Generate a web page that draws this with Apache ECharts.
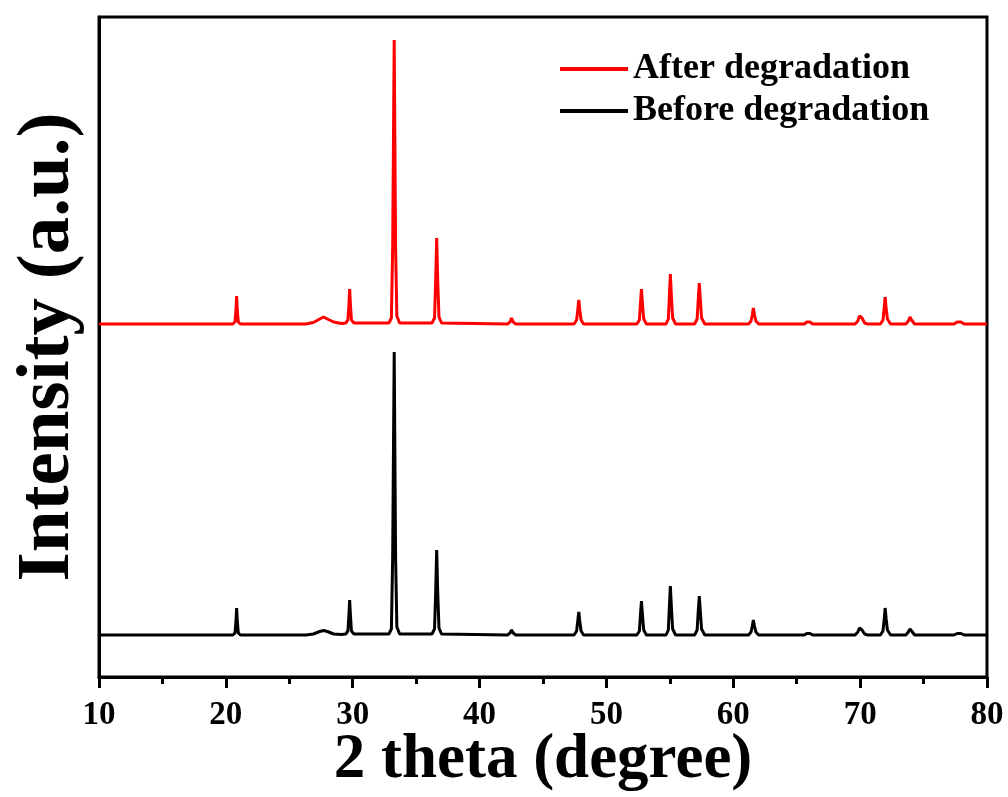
<!DOCTYPE html>
<html>
<head>
<meta charset="utf-8">
<script src="https://cdn.jsdelivr.net/npm/echarts@6/dist/echarts.min.js"></script>
<style>
html,body{margin:0;padding:0;background:#fff;}
#chart{width:1008px;height:797px;}
</style>
</head>
<body>
<div id="chart"></div>
<script>
// 2 theta positions (degree), shared by both patterns
const theta = [
  10,
  20.55, 20.72, 20.8, 20.85, 20.9, 20.98, 21.15,
  26.3, 26.9, 27.4, 27.7, 28.0, 28.5, 29.1,
  29.45, 29.62, 29.7, 29.76, 29.82, 29.9, 30.1,
  32.85, 33.05, 33.15, 33.27, 33.38, 33.48, 33.7,
  36.25, 36.45, 36.54, 36.62, 36.7, 36.8, 37.0,
  42.2, 42.4, 42.52, 42.65, 42.85,
  47.45, 47.65, 47.74, 47.82, 47.9, 48.0, 48.2,
  52.4, 52.6, 52.68, 52.76, 52.84, 52.94, 53.15,
  54.7, 54.88, 54.96, 55.04, 55.12, 55.22, 55.45,
  56.95, 57.15, 57.24, 57.32, 57.4, 57.5, 57.75,
  61.2, 61.4, 61.5, 61.58, 61.67, 61.78, 62.0,
  65.6, 65.8, 65.92, 66.05, 66.25,
  69.6, 69.82, 69.95, 70.05, 70.15, 70.35, 70.6,
  71.6, 71.8, 71.9, 71.97, 72.05, 72.15, 72.4,
  73.6, 73.8, 73.93, 74.05, 74.3,
  77.4, 77.65, 77.8, 77.95, 78.2,
  80
];
// Intensity (a.u., offset for stacking display)
const beforeIntensity = [
  42,
  42, 44, 56, 69, 56, 44, 42,
  42, 43, 45.5, 46.5, 45.5, 43, 42.5,
  43, 46, 62, 77, 62, 46, 43,
  43, 48, 120, 325, 120, 50, 43,
  43, 48, 85, 127, 85, 49, 43,
  42, 44, 47, 44, 42,
  42, 46, 56, 65, 56, 46, 42,
  42, 46, 62, 76, 62, 47, 42,
  42, 47, 70, 91, 70, 48, 42,
  42, 47, 66, 81, 66, 48, 42,
  42, 45, 51, 57, 51, 45, 42,
  42, 43.5, 45, 43.5, 42,
  42, 45, 49, 50, 47, 43, 42,
  42, 46, 58, 69, 58, 47, 42,
  42, 45, 48, 46, 42,
  42, 43.5, 44, 43.5, 42,
  42
];
const afterIntensity = [
  353,
  353, 355, 367, 381, 367, 355, 353,
  353, 354.5, 358, 360, 358, 355, 353.5,
  354, 357, 372, 388, 372, 357, 354,
  354, 359, 430, 637, 430, 361, 354,
  354, 359, 397, 439, 397, 360, 354,
  353, 355, 359, 355, 353,
  353, 357, 367, 377, 367, 357, 353,
  353, 357, 373, 388, 373, 358, 353,
  353, 358, 381, 403, 381, 359, 353,
  353, 358, 378, 394, 378, 359, 353,
  353, 356, 362, 369, 362, 356, 353,
  353, 355, 357, 355, 353,
  353, 356, 361, 362, 359, 354, 353,
  353, 357, 369, 380, 369, 358, 353,
  353, 356, 360, 357, 353,
  353, 355, 356, 355, 353,
  353
];
const seriesNames = ['After degradation', 'Before degradation'];
const xTicks = { min: 10, max: 80, interval: 10 };

const pair = (ys) => theta.map((t, i) => [t, ys[i]]);
const serif = '"Liberation Serif", "Times New Roman", serif';

const chart = echarts.init(document.getElementById('chart'));
chart.setOption({
  backgroundColor: '#ffffff',
  animation: false,
  grid: {
    left: 99, right: 21, top: 17, bottom: 120,
    containLabel: false,
    outerBoundsMode: 'none',
    show: true, borderColor: '#000', borderWidth: 3, backgroundColor: 'transparent'
  },
  legend: {
    orient: 'vertical',
    left: 560, top: 51,
    padding: 0,
    icon: 'rect',
    itemWidth: 68, itemHeight: 4,
    itemGap: 6,
    data: seriesNames,
    textStyle: { fontFamily: serif, fontWeight: 'bold', fontSize: 36, color: '#000' }
  },
  xAxis: {
    type: 'value',
    min: xTicks.min, max: xTicks.max, interval: xTicks.interval,
    name: '2 theta (degree)',
    nameLocation: 'middle',
    nameGap: 52,
    nameMoveOverlap: false,
    nameTextStyle: { fontFamily: serif, fontWeight: 'bold', fontSize: 63, lineHeight: 63, color: '#000', verticalAlign: 'top' },
    axisLine: { show: true, lineStyle: { color: '#000', width: 3 } },
    axisTick: { show: true, inside: false, length: 11, lineStyle: { color: '#000', width: 3 } },
    minorTick: { show: true, splitNumber: 2, length: 7, lineStyle: { color: '#000', width: 3 } },
    axisLabel: { margin: 22, fontFamily: serif, fontWeight: 'bold', fontSize: 33, color: '#000' },
    splitLine: { show: false },
    minorSplitLine: { show: false }
  },
  yAxis: {
    type: 'value',
    min: 0, max: 660,
    name: 'Intensity (a.u.)',
    nameLocation: 'middle',
    nameGap: 13,
    nameMoveOverlap: false,
    nameTextStyle: { fontFamily: serif, fontWeight: 'bold', fontSize: 75, color: '#000' },
    axisLine: { show: true, lineStyle: { color: '#000', width: 3 } },
    axisTick: { show: false },
    axisLabel: { show: false },
    splitLine: { show: false }
  },
  series: [
    {
      name: seriesNames[0], type: 'line', data: pair(afterIntensity),
      showSymbol: false, symbol: 'none', sampling: null,
      lineStyle: { color: '#ff0000', width: 3 }, itemStyle: { color: '#ff0000' }
    },
    {
      name: seriesNames[1], type: 'line', data: pair(beforeIntensity),
      showSymbol: false, symbol: 'none', sampling: null,
      lineStyle: { color: '#000000', width: 3 }, itemStyle: { color: '#000000' }
    }
  ]
});
</script>
</body>
</html>
